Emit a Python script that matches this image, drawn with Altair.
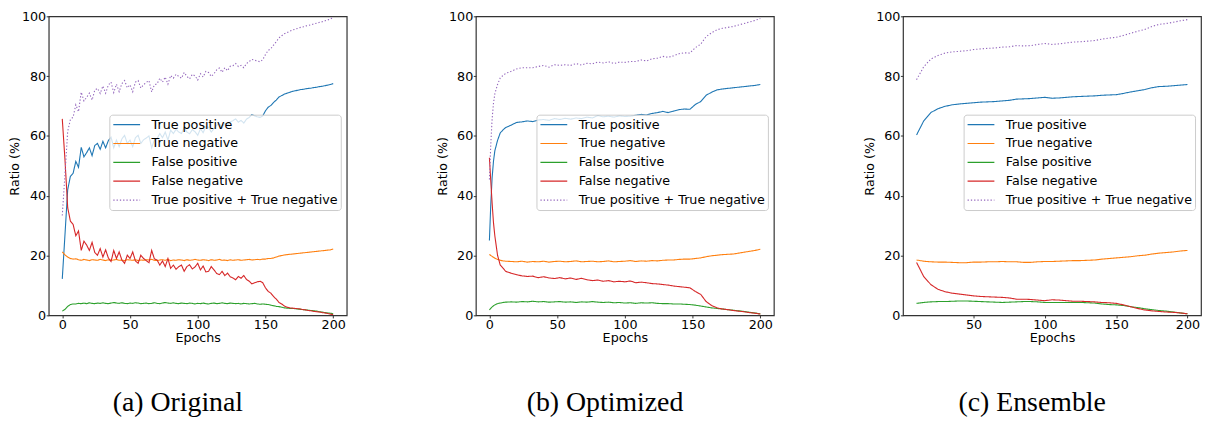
import altair as alt
import pandas as pd

SERIES = ["True positive", "True negative", "False positive", "False negative",
          "True positive + True negative"]
COLORS = ["#1f77b4", "#ff7f0e", "#2ca02c", "#d62728", "#9467bd"]
DASHES = [[1, 0], [1, 0], [1, 0], [1, 0], [1.3, 2.0]]
CAPTIONS = ["(a) Original", "(b) Optimized", "(c) Ensemble"]
X_TICKS_AB = [0, 50, 100, 150, 200]
X_TICKS_C = [50, 100, 150, 200]
Y_TICKS = [0, 20, 40, 60, 80, 100]

# ---------------- (a) Original ----------------
A_EPOCHS = list(range(0, 201, 2))
A_TP = [12.2, 27.0, 42.0, 46.5, 47.5, 51.5, 49.5, 56.2, 53.0, 54.4,
        56.0, 53.4, 56.8, 57.5, 55.5, 58.2, 56.0, 58.4, 59.6, 56.0,
        58.6, 56.4, 59.0, 60.2, 57.5, 58.6, 56.4, 59.4, 60.2, 57.5,
        58.7, 59.3, 60.0, 56.0, 58.7, 59.1, 60.8, 59.4, 61.3, 58.6,
        61.9, 60.8, 62.2, 61.3, 60.8, 62.9, 61.3, 60.7, 62.1, 61.4,
        60.2, 62.4, 61.1, 63.1, 62.9, 61.3, 62.4, 63.6, 64.0, 62.9,
        64.3, 63.5, 64.7, 65.1, 65.7, 64.6, 65.2, 64.3, 65.6, 66.2,
        67.1, 66.7, 66.4, 66.2, 66.7, 68.4, 69.6, 70.2, 71.2, 72.0,
        73.0, 73.5, 74.0, 74.3, 74.6, 74.9, 75.1, 75.3, 75.5, 75.6,
        75.8, 75.9, 76.0, 76.2, 76.3, 76.5, 76.6, 76.8, 77.0, 77.2,
        77.5]
A_TN = [21.2, 20.2, 19.5, 19.0, 18.8, 18.9, 18.6, 18.4, 18.7, 18.5,
        18.3, 18.6, 18.5, 18.4, 18.7, 18.5, 18.3, 18.6, 18.4, 18.5,
        18.7, 18.4, 18.5, 18.3, 18.6, 18.5, 18.4, 18.6, 18.3, 18.5,
        18.4, 18.6, 18.5, 18.7, 18.4, 18.3, 18.5, 18.6, 18.4, 18.7,
        18.3, 18.5, 18.4, 18.6, 18.5, 18.3, 18.6, 18.4, 18.5, 18.7,
        18.5, 18.4, 18.6, 18.5, 18.3, 18.6, 18.4, 18.5, 18.7, 18.4,
        18.5, 18.3, 18.6, 18.4, 18.5, 18.6, 18.4, 18.5, 18.6, 18.7,
        18.5, 18.6, 18.7, 18.6, 18.8, 18.8, 19.0, 19.0, 19.2, 19.5,
        19.8, 20.0, 20.2, 20.3, 20.4, 20.5, 20.6, 20.7, 20.8, 20.9,
        21.0, 21.1, 21.2, 21.3, 21.4, 21.5, 21.6, 21.7, 21.8, 21.9,
        22.2]
A_FP = [1.4, 2.0, 3.0, 3.6, 3.8, 3.8, 4.0, 3.9, 4.1, 3.9,
        4.2, 4.0, 3.9, 4.1, 4.0, 4.2, 4.0, 3.9, 4.1, 4.3,
        4.1, 4.0, 4.2, 4.0, 3.9, 4.1, 4.0, 4.2, 4.1, 3.9,
        4.0, 4.1, 3.9, 4.0, 4.2, 4.0, 3.9, 4.1, 4.3, 4.1,
        4.0, 4.2, 4.0, 3.9, 4.1, 4.0, 3.9, 4.1, 4.0, 3.8,
        4.0, 3.9, 4.1, 3.9, 3.8, 4.0, 4.1, 3.9, 4.0, 4.2,
        4.0, 3.9, 4.1, 4.0, 3.9, 4.0, 3.8, 4.0, 3.9, 3.8,
        3.9, 4.0, 3.8, 3.7, 3.8, 3.7, 3.6, 3.4, 3.2, 3.0,
        2.9, 2.7, 2.5, 2.4, 2.3, 2.3, 2.2, 2.1, 2.0, 1.9,
        1.8, 1.7, 1.6, 1.5, 1.4, 1.2, 1.1, 0.9, 0.8, 0.7,
        0.5]
A_FN = [65.7, 52.0, 36.0, 31.5, 30.4, 26.6, 28.2, 21.7, 24.8, 23.5,
        21.7, 24.4, 21.0, 20.1, 22.3, 19.5, 21.9, 19.2, 18.0, 21.7,
        19.0, 21.2, 18.5, 17.4, 20.1, 19.0, 21.2, 18.2, 17.4, 20.1,
        19.0, 18.3, 17.6, 21.7, 18.9, 18.5, 16.8, 18.2, 16.3, 19.0,
        15.7, 16.8, 15.4, 16.3, 16.8, 14.7, 16.3, 16.9, 15.5, 16.2,
        17.4, 15.2, 16.5, 14.5, 14.7, 16.3, 15.2, 14.0, 13.6, 14.7,
        13.3, 14.1, 12.9, 12.5, 11.9, 13.0, 12.4, 13.3, 12.0, 11.4,
        10.5, 10.9, 11.2, 11.4, 10.9, 9.2, 8.0, 7.4, 6.3, 5.4,
        4.3, 3.8, 3.1, 2.7, 2.5, 2.4, 2.3, 2.2, 2.1, 1.9,
        1.8, 1.6, 1.5, 1.3, 1.2, 1.1, 0.9, 0.8, 0.6, 0.4,
        0.2]

# ---------------- (b) Optimized ----------------
B_EPOCHS = [0, 1, 2, 3, 4, 6, 8, 10, 12,
            16, 20, 24, 28, 32, 36, 40, 44, 48, 52,
            56, 60, 64, 68, 72, 76, 80, 84, 88, 92,
            96, 100, 104, 108, 112, 116, 120, 124, 128, 132,
            136, 140, 144, 148, 152, 156, 160, 164, 168, 172,
            176, 180, 184, 188, 192, 196, 200]
B_TP = [25.0, 37.0, 46.0, 51.5, 55.0, 58.5, 61.0, 62.0, 62.8,
        63.6, 64.5, 64.7, 65.0, 64.8, 65.3, 65.5, 65.2, 65.8, 65.5,
        65.9, 65.6, 66.0, 65.8, 66.3, 66.0, 66.8, 66.4, 66.6, 66.3,
        66.7, 66.5, 66.6, 66.9, 67.2, 67.0, 67.5, 67.8, 68.2, 67.8,
        68.3, 68.8, 69.0, 68.9, 70.5, 71.5, 73.6, 74.6, 75.4, 75.7,
        75.9, 76.1, 76.3, 76.5, 76.7, 76.9, 77.2]
B_TN = [20.4, 20.0, 19.7, 19.4, 19.1, 18.7, 18.4, 18.2, 18.1,
        18.0, 17.9, 18.1, 17.8, 18.0, 17.9, 18.1, 17.8, 18.0, 18.1,
        17.9, 18.0, 18.2, 17.9, 18.0, 18.1, 17.9, 18.0, 18.2, 17.9,
        18.0, 18.1, 18.3, 18.0, 18.2, 18.1, 18.3, 18.2, 18.4, 18.5,
        18.5, 18.7, 18.8, 18.8, 19.0, 19.2, 19.6, 19.9, 20.1, 20.3,
        20.4, 20.5, 20.8, 21.1, 21.4, 21.7, 22.1]
B_FP = [1.8, 2.3, 2.8, 3.2, 3.5, 3.9, 4.1, 4.3, 4.4,
        4.5, 4.4, 4.6, 4.5, 4.7, 4.5, 4.6, 4.4, 4.5, 4.6,
        4.4, 4.5, 4.3, 4.5, 4.4, 4.6, 4.4, 4.3, 4.4, 4.2,
        4.3, 4.1, 4.2, 4.0, 4.2, 4.1, 4.2, 4.0, 3.9, 3.9,
        3.8, 3.8, 3.7, 3.6, 3.4, 3.1, 2.8, 2.5, 2.3, 2.1,
        1.9, 1.7, 1.5, 1.3, 1.0, 0.8, 0.5]
B_FN = [52.7, 45.0, 37.5, 31.0, 26.6, 20.1, 16.8, 15.8, 14.7,
        14.1, 13.6, 13.2, 13.0, 13.1, 12.6, 12.9, 12.5, 12.3, 12.6,
        12.2, 12.5, 12.0, 12.4, 11.9, 11.6, 11.8, 11.4, 11.6, 11.2,
        11.4, 11.2, 11.5, 10.9, 11.1, 10.9, 10.6, 10.5, 10.3, 10.1,
        9.8, 9.6, 9.4, 9.2, 8.0, 7.0, 4.6, 3.3, 2.5, 2.1,
        1.9, 1.6, 1.4, 1.2, 0.9, 0.7, 0.4]

# ---------------- (c) Ensemble ----------------
C_EPOCHS = list(range(10, 201, 5))
C_TP = [60.3, 65.0, 67.8, 69.1, 69.9, 70.4, 70.7, 70.9, 71.1, 71.3,
        71.4, 71.5, 71.7, 71.9, 72.3, 72.4, 72.5, 72.7, 72.9, 72.6,
        72.7, 72.9, 73.1, 73.2, 73.3, 73.4, 73.6, 73.7, 73.8, 74.2,
        74.7, 75.1, 75.5, 76.1, 76.5, 76.6, 76.8, 77.0, 77.2]
C_TN = [18.5, 18.1, 17.9, 17.8, 17.8, 17.7, 17.6, 17.6, 17.8, 17.8,
        17.9, 17.9, 18.0, 17.9, 17.9, 17.7, 17.7, 17.9, 18.0, 18.0,
        18.1, 18.2, 18.3, 18.3, 18.4, 18.5, 18.8, 19.0, 19.2, 19.4,
        19.6, 19.9, 20.1, 20.5, 20.8, 21.0, 21.2, 21.5, 21.7]
C_FP = [4.0, 4.3, 4.5, 4.6, 4.6, 4.7, 4.8, 4.8, 4.7, 4.6,
        4.5, 4.4, 4.3, 4.4, 4.5, 4.6, 4.6, 4.5, 4.3, 4.3,
        4.3, 4.3, 4.3, 4.3, 4.2, 4.1, 3.8, 3.6, 3.5, 3.3,
        2.9, 2.6, 2.2, 1.9, 1.6, 1.4, 1.1, 0.8, 0.5]
C_FN = [17.7, 13.0, 10.3, 8.7, 7.9, 7.4, 7.1, 6.8, 6.5, 6.3,
        6.2, 6.1, 6.0, 5.8, 5.4, 5.4, 5.3, 5.1, 4.9, 5.2,
        5.1, 4.9, 4.7, 4.7, 4.6, 4.5, 4.3, 4.2, 4.0, 3.5,
        2.9, 2.3, 1.8, 1.5, 1.3, 1.1, 1.0, 0.8, 0.5]

FONT = "DejaVu Sans"
FS = 12.8


def make_frame(epochs, tp, tn, fp, fn):
    assert all(len(s) == len(epochs) for s in (tp, tn, fp, fn)), "length mismatch"
    rows = []
    for i, e in enumerate(epochs):
        vals = [tp[i], tn[i], fp[i], fn[i], round(tp[i] + tn[i], 2)]
        for s, v in zip(SERIES, vals):
            rows.append({"epoch": e, "ratio": v, "series": s})
    return pd.DataFrame(rows)


def legend():
    return alt.Legend(
        title=None, orient="none", legendX=61, legendY=99,
        symbolType="M-2,0H2", symbolSize=182, symbolStrokeWidth=1.2,
        symbolOffset=7.5, labelOffset=17.5, padding=2.5, rowPadding=4,
        labelFont=FONT, labelFontSize=FS, labelColor="#000", labelLimit=400,
        fillColor="rgba(255,255,255,0.8)", strokeColor="#cccccc", cornerRadius=3,
    )


def panel(df, xdomain, xticks, caption):
    return alt.Chart(df).mark_line(strokeWidth=1.1, clip=True).encode(
        x=alt.X("epoch:Q", scale=alt.Scale(domain=xdomain, nice=False, zero=False),
                axis=alt.Axis(values=xticks, title="Epochs", titleY=26,
                              titleBaseline="alphabetic")),
        y=alt.Y("ratio:Q", scale=alt.Scale(domain=[0, 100], nice=False),
                axis=alt.Axis(values=Y_TICKS, title="Ratio (%)", titleX=-30,
                              titleBaseline="alphabetic")),
        color=alt.Color("series:N", sort=SERIES,
                        scale=alt.Scale(domain=SERIES, range=COLORS), legend=legend()),
        strokeDash=alt.StrokeDash("series:N", sort=SERIES,
                                  scale=alt.Scale(domain=SERIES, range=DASHES), legend=legend()),
    ).properties(
        width=300, height=301,
        title=alt.TitleParams(text=caption, orient="bottom", anchor="middle", frame="bounds",
                              font="Liberation Serif", fontSize=28, fontWeight="normal",
                              color="#000", baseline="alphabetic", offset=68),
    )


pa = panel(make_frame(A_EPOCHS, A_TP, A_TN, A_FP, A_FN), [-10, 210], X_TICKS_AB, CAPTIONS[0])
pb = panel(make_frame(B_EPOCHS, B_TP, B_TN, B_FP, B_FN), [-10, 210], X_TICKS_AB, CAPTIONS[1])
pc = panel(make_frame(C_EPOCHS, C_TP, C_TN, C_FP, C_FN), [0.5, 209.5], X_TICKS_C, CAPTIONS[2])

chart = alt.hconcat(pa, pb, pc, spacing=88, padding=0, background="white").resolve_scale(
    x="independent", y="independent", color="independent", strokeDash="independent"
).resolve_legend(
    color="independent", strokeDash="independent"
).configure_view(
    stroke="#333", strokeWidth=1.2
).configure_axis(
    domain=False, grid=False, tickColor="#333", tickSize=2.6, tickWidth=1,
    labelFont=FONT, labelFontSize=FS, labelColor="#000", labelPadding=0.5,
    titleFont=FONT, titleFontSize=FS, titleFontWeight="normal", titleColor="#000",
)

chart.save("out.html", embed_options={"renderer": "svg", "actions": False})
